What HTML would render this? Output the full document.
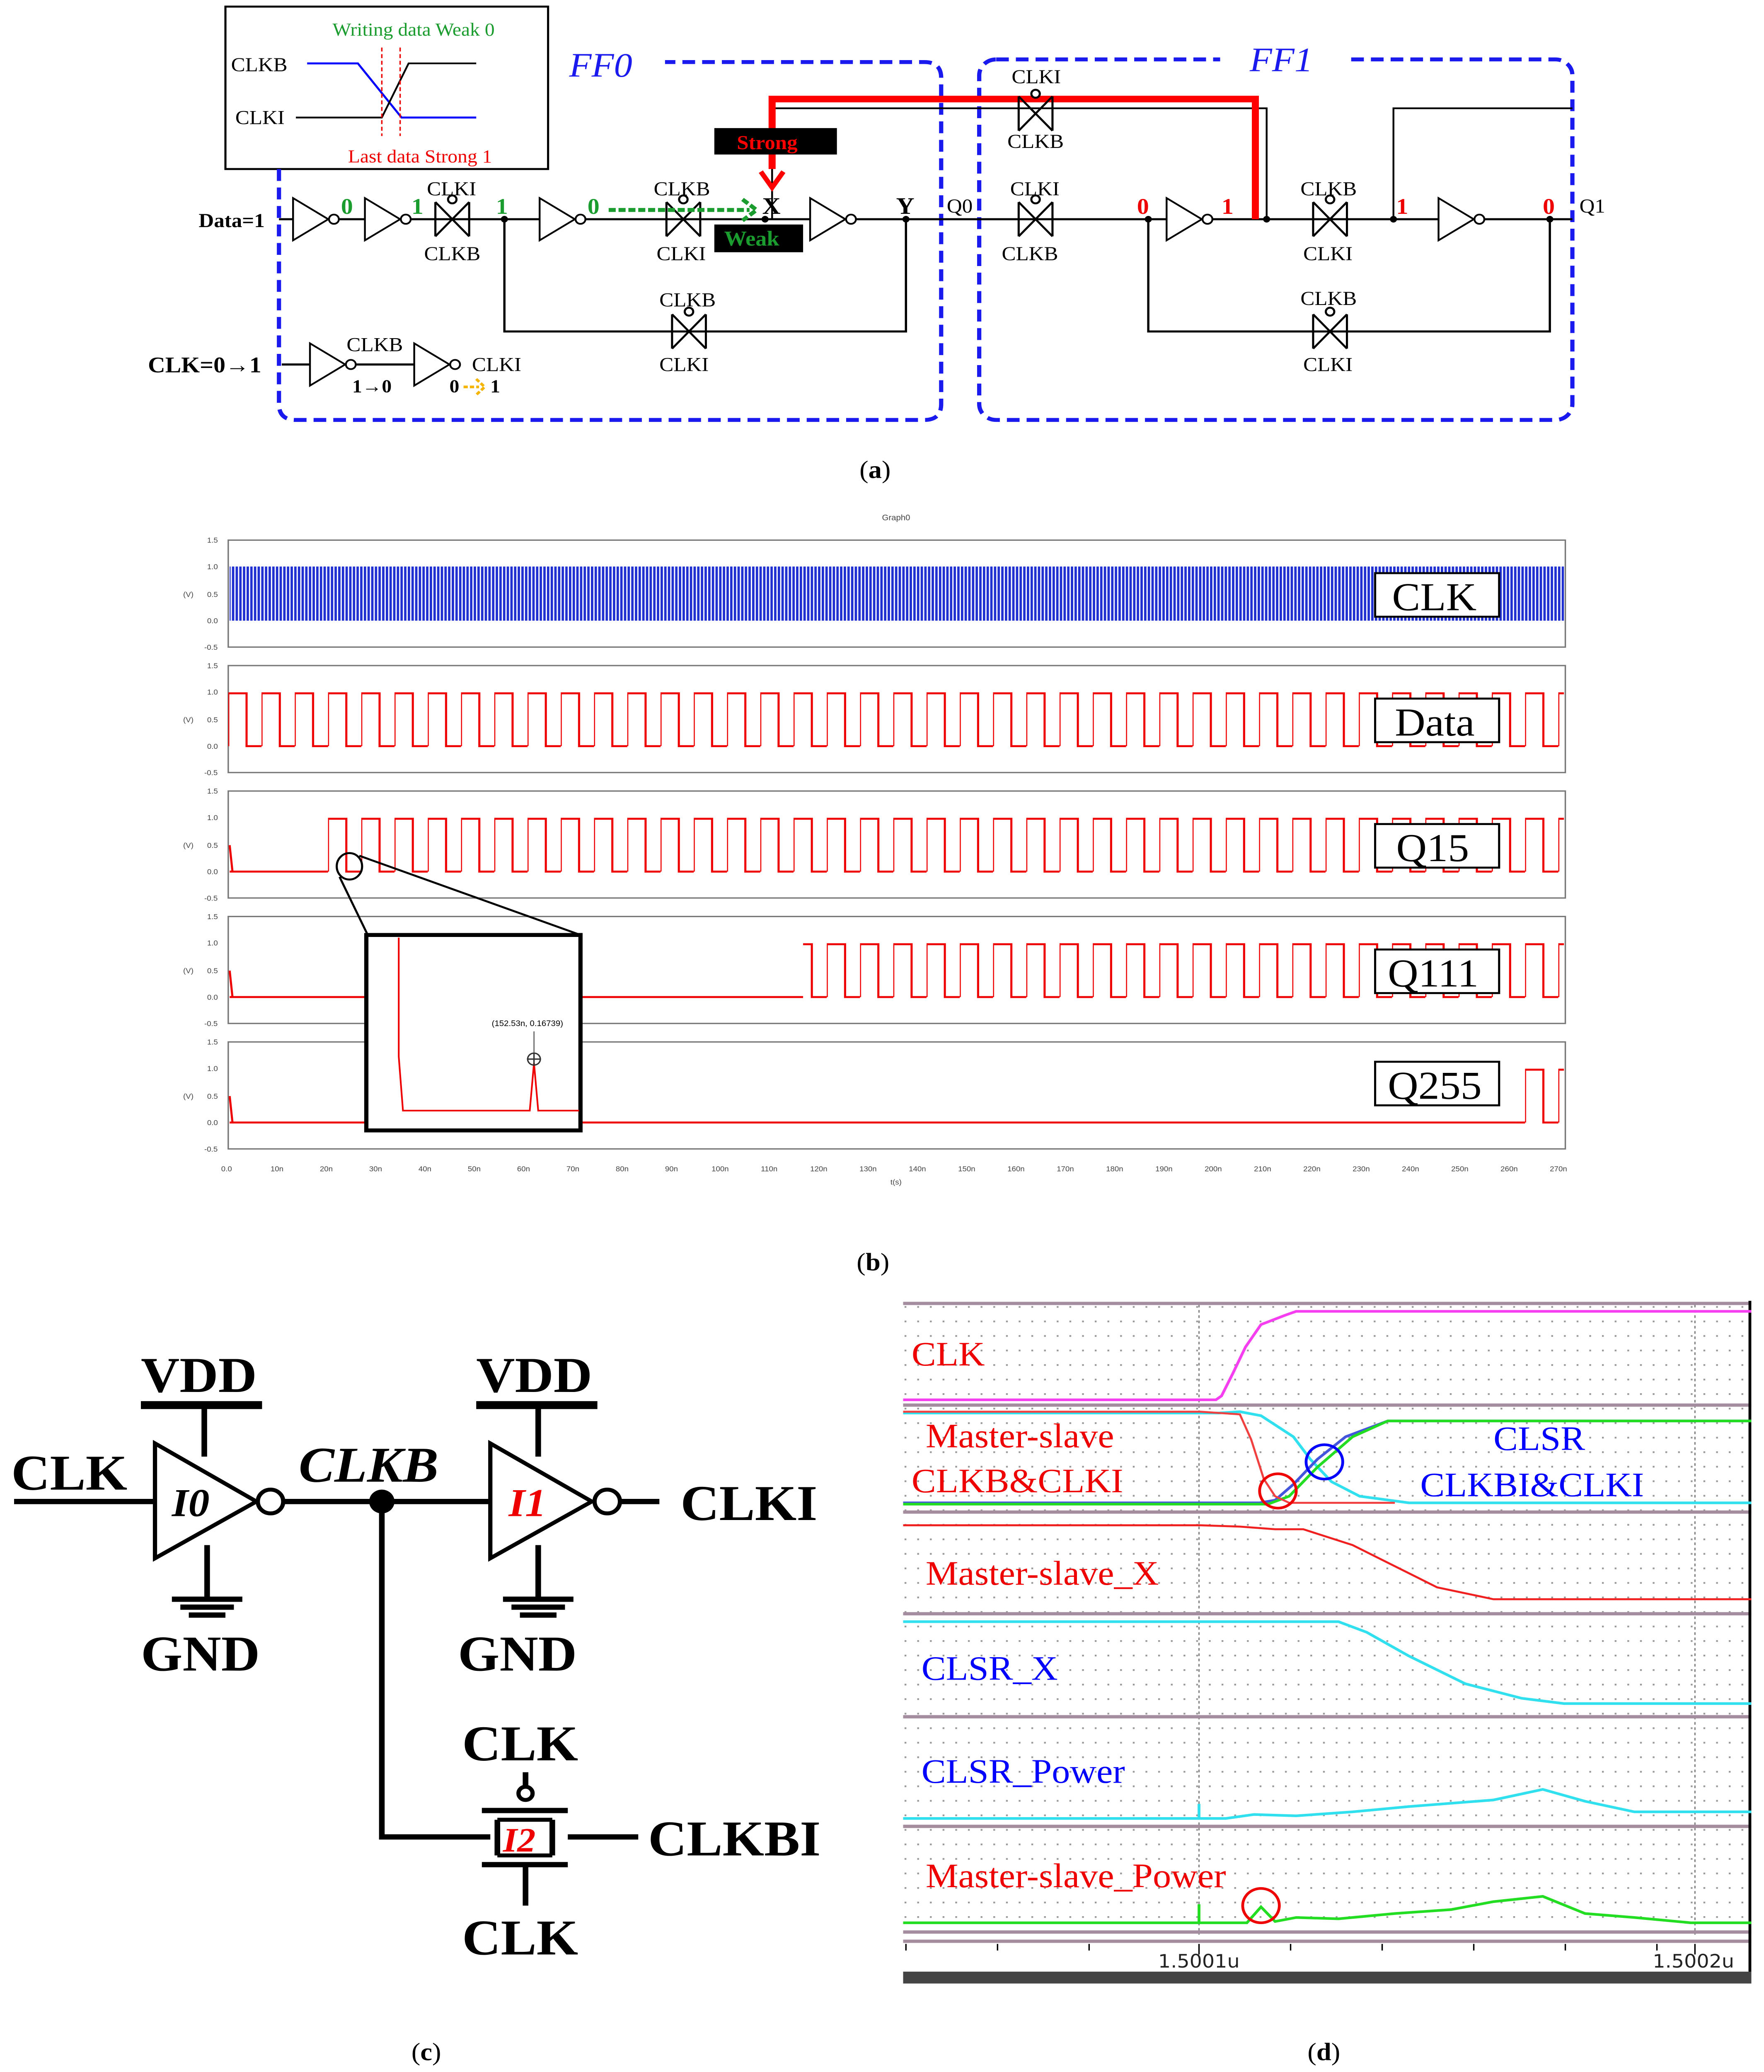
<!DOCTYPE html>
<html><head><meta charset="utf-8"><style>html,body{margin:0;padding:0;background:#fff;overflow:hidden;width:100%;height:100%}svg{display:block;width:100vw;height:100vh}</style></head>
<body>
<svg xmlns="http://www.w3.org/2000/svg" viewBox="0 0 1252 1569" preserveAspectRatio="none" font-family="Liberation Serif, serif">
<defs>
<g id="tg" fill="none" stroke="#000" stroke-width="1.5">
<line x1="-12" y1="-13" x2="-12" y2="13"/><line x1="12" y1="-13" x2="12" y2="13"/>
<line x1="-12" y1="-13" x2="12" y2="13"/><line x1="12" y1="-13" x2="-12" y2="13"/>
<circle cx="0" cy="-15" r="3" fill="#fff"/>
</g>
<g id="inv" fill="#fff" stroke="#000" stroke-width="1.3">
<polygon points="0,-16 25,0 0,16"/><circle cx="29" cy="0" r="3.5"/>
</g>
<pattern id="pdata" patternUnits="userSpaceOnUse" x="162" y="0" width="23.6" height="1600">
<path d="M0,565 V525 H13 V565 H23.6" fill="none" stroke="#e00" stroke-width="1.5"/>
</pattern>
<pattern id="pclk" patternUnits="userSpaceOnUse" x="162" y="0" width="2.6" height="1600">
<rect x="0" y="0" width="1.7" height="1600" fill="#1f2fd0"/>
</pattern>
<pattern id="dots" patternUnits="userSpaceOnUse" x="642" y="989" width="9" height="11">
<rect x="0" y="0" width="1.3" height="1.3" fill="#999"/>
</pattern>
</defs>

<!-- ===== (a) ===== -->
<rect x="160" y="5" width="229" height="123" fill="#fff" stroke="#000" stroke-width="1.5"/>
<text x="236" y="27" font-size="14" fill="#1a9c2e">Writing data Weak 0</text>
<text x="164" y="54" font-size="15">CLKB</text>
<text x="167" y="94" font-size="15">CLKI</text>
<text x="247" y="123" font-size="14" fill="#e00">Last data Strong 1</text>
<path d="M218,48 H254 L285,89 H338" fill="none" stroke="#00f" stroke-width="1.5"/>
<path d="M210,89 H271 L290,48 H338" fill="none" stroke="#000" stroke-width="1.3"/>
<line x1="271" y1="36" x2="271" y2="103" stroke="#e00" stroke-dasharray="3,2"/>
<line x1="284" y1="36" x2="284" y2="103" stroke="#e00" stroke-dasharray="3,2"/>

<path d="M198,128 V306 Q198,318 210,318 H656 Q668,318 668,306 V59 Q668,47 656,47 H472" fill="none" stroke="#1a1aee" stroke-width="3" stroke-dasharray="9,5"/>
<rect x="695" y="45" width="421" height="273" rx="12" fill="none" stroke="#1a1aee" stroke-width="3" stroke-dasharray="9,5"/>
<rect x="866" y="30" width="90" height="30" fill="#fff"/>
<text x="404" y="58" font-size="26" font-style="italic" fill="#1a1aee">FF0</text>
<text x="887" y="54" font-size="26" font-style="italic" fill="#1a1aee">FF1</text>

<g stroke="#000" stroke-width="1.6" fill="none">
<line x1="198" y1="166" x2="1116" y2="166"/>
<path d="M358,166 V251 H643 V166"/>
<path d="M815,166 V251 H1100 V166"/>
<path d="M548,166 V82 H899 V166" stroke-width="1.3"/>
<path d="M989,166 V82 H1116" stroke-width="1.3"/>
<path d="M200,276 H220 M246,276 H294"/>
</g>
<path d="M548,128 V75 H891 V166" fill="none" stroke="#f00" stroke-width="5"/>
<path d="M540,130 L548,142 L556,130" fill="none" stroke="#f00" stroke-width="3.5"/>
<g fill="#000"><circle cx="358" cy="166" r="2.5"/><circle cx="543" cy="166" r="2.5"/><circle cx="643" cy="166" r="2.5"/><circle cx="815" cy="166" r="2.5"/><circle cx="899" cy="166" r="2.5"/><circle cx="989" cy="166" r="2.5"/><circle cx="1100" cy="166" r="2.5"/></g>

<use href="#inv" x="208" y="166"/><use href="#inv" x="259" y="166"/><use href="#inv" x="383" y="166"/>
<use href="#inv" x="575" y="166"/><use href="#inv" x="828" y="166"/><use href="#inv" x="1021" y="166"/>
<use href="#inv" x="220" y="276"/><use href="#inv" x="294" y="276"/>
<use href="#tg" x="321" y="166"/><use href="#tg" x="485" y="166"/><use href="#tg" x="735" y="86"/>
<use href="#tg" x="735" y="166"/><use href="#tg" x="944" y="166"/><use href="#tg" x="489" y="251"/><use href="#tg" x="944" y="251"/>

<g font-size="15">
<text x="303" y="148">CLKI</text><text x="301" y="197">CLKB</text>
<text x="464" y="148">CLKB</text><text x="466" y="197">CLKI</text>
<text x="718" y="63">CLKI</text><text x="715" y="112">CLKB</text>
<text x="717" y="148">CLKI</text><text x="711" y="197">CLKB</text>
<text x="923" y="148">CLKB</text><text x="925" y="197">CLKI</text>
<text x="468" y="232">CLKB</text><text x="468" y="281">CLKI</text>
<text x="923" y="231">CLKB</text><text x="925" y="281">CLKI</text>
<text x="246" y="266">CLKB</text><text x="335" y="281">CLKI</text>
<text x="672" y="161">Q0</text><text x="1121" y="161">Q1</text>
</g>
<text x="141" y="172" font-size="15" font-weight="bold">Data=1</text>
<text x="105" y="282" font-size="17" font-weight="bold">CLK=0→1</text>
<text x="250" y="297" font-size="14" font-weight="bold">1→0</text>
<text x="319" y="297" font-size="14" font-weight="bold">0</text>
<text x="348" y="297" font-size="14" font-weight="bold">1</text>
<path d="M329,293 H340 M338,287 L344,293 L338,299" fill="none" stroke="#f4b400" stroke-width="2" stroke-dasharray="3,1.5"/>
<text x="541" y="162" font-size="18" font-weight="bold">X</text>
<text x="636" y="162" font-size="18" font-weight="bold">Y</text>
<g font-size="17" font-weight="bold" fill="#1a9c2e"><text x="242" y="162">0</text><text x="292" y="162">1</text><text x="352" y="162">1</text><text x="417" y="162">0</text></g>
<g font-size="17" font-weight="bold" fill="#e00"><text x="807" y="162">0</text><text x="867" y="162">1</text><text x="991" y="162">1</text><text x="1095" y="162">0</text></g>
<path d="M432,159 H532 M527,151 L537,159 L527,167" fill="none" stroke="#1a9c2e" stroke-width="3" stroke-dasharray="5,2"/>
<rect x="507" y="97" width="87" height="20" fill="#000"/><text x="523" y="113" font-size="15" font-weight="bold" fill="#f00">Strong</text>
<rect x="507" y="170" width="63" height="21" fill="#000"/><text x="514" y="186" font-size="16" font-weight="bold" fill="#1a9c2e">Weak</text>

<text x="610" y="362" font-size="19">(<tspan font-weight="bold">a</tspan>)</text>

<!-- ===== (b) ===== -->
<text x="626" y="394" font-family="Liberation Sans, sans-serif" font-size="6" fill="#444">Graph0</text>
<g font-family="Liberation Sans, sans-serif" font-size="5.5" fill="#444">
<text x="147" y="411">1.5</text><text x="147" y="431">1.0</text><text x="147" y="452">0.5</text><text x="147" y="472">0.0</text><text x="145" y="492">-0.5</text>
<text x="147" y="506">1.5</text><text x="147" y="526">1.0</text><text x="147" y="547">0.5</text><text x="147" y="567">0.0</text><text x="145" y="587">-0.5</text>
<text x="147" y="601">1.5</text><text x="147" y="621">1.0</text><text x="147" y="642">0.5</text><text x="147" y="662">0.0</text><text x="145" y="682">-0.5</text>
<text x="147" y="696">1.5</text><text x="147" y="716">1.0</text><text x="147" y="737">0.5</text><text x="147" y="757">0.0</text><text x="145" y="777">-0.5</text>
<text x="147" y="791">1.5</text><text x="147" y="811">1.0</text><text x="147" y="832">0.5</text><text x="147" y="852">0.0</text><text x="145" y="872">-0.5</text>
<text x="130" y="452">(V)</text><text x="130" y="547">(V)</text><text x="130" y="642">(V)</text><text x="130" y="737">(V)</text><text x="130" y="832">(V)</text>
<text x="157" y="887">0.0</text><text x="192" y="887">10n</text><text x="227" y="887">20n</text><text x="262" y="887">30n</text><text x="297" y="887">40n</text><text x="332" y="887">50n</text><text x="367" y="887">60n</text><text x="402" y="887">70n</text><text x="437" y="887">80n</text><text x="472" y="887">90n</text><text x="505" y="887">100n</text><text x="540" y="887">110n</text><text x="575" y="887">120n</text><text x="610" y="887">130n</text><text x="645" y="887">140n</text><text x="680" y="887">150n</text><text x="715" y="887">160n</text><text x="750" y="887">170n</text><text x="785" y="887">180n</text><text x="820" y="887">190n</text><text x="855" y="887">200n</text><text x="890" y="887">210n</text><text x="925" y="887">220n</text><text x="960" y="887">230n</text><text x="995" y="887">240n</text><text x="1030" y="887">250n</text><text x="1065" y="887">260n</text><text x="1100" y="887">270n</text>
<text x="632" y="897">t(s)</text>
</g>
<g fill="#fff" stroke="#777" stroke-width="1">
<rect x="162" y="409" width="949" height="81"/><rect x="162" y="504" width="949" height="81"/>
<rect x="162" y="599" width="949" height="81"/><rect x="162" y="694" width="949" height="81"/>
<rect x="162" y="789" width="949" height="81"/>
</g>
<rect x="163" y="429" width="947" height="41" fill="url(#pclk)"/>
<rect x="162" y="505" width="948" height="79" fill="url(#pdata)"/>
<g transform="translate(0,95)"><rect x="232" y="505" width="878" height="79" fill="url(#pdata)"/></g>
<line x1="163" y1="660" x2="232" y2="660" stroke="#e00" stroke-width="1.5"/>
<g transform="translate(0,190)"><rect x="570" y="505" width="540" height="79" fill="url(#pdata)"/></g>
<line x1="163" y1="755" x2="570" y2="755" stroke="#e00" stroke-width="1.5"/>
<g transform="translate(0,285)"><rect x="1076" y="505" width="34" height="79" fill="url(#pdata)"/></g>
<line x1="163" y1="850" x2="1076" y2="850" stroke="#e00" stroke-width="1.5"/>
<path d="M163,640 L165,660 M163,735 L165,755 M163,830 L165,850" stroke="#e00" stroke-width="1.5"/>
<g fill="#fff" stroke="#000" stroke-width="1.5">
<rect x="976" y="434" width="88" height="33"/><rect x="976" y="529" width="88" height="33"/>
<rect x="976" y="624" width="88" height="33"/><rect x="976" y="719" width="88" height="33"/><rect x="976" y="804" width="88" height="33"/>
</g>
<g font-size="30"><text x="988" y="462">CLK</text><text x="990" y="557">Data</text><text x="991" y="652">Q15</text><text x="985" y="747">Q111</text><text x="985" y="832">Q255</text></g>
<ellipse cx="248" cy="656" rx="9" ry="10" fill="none" stroke="#000" stroke-width="1.5"/>
<line x1="241" y1="664" x2="261" y2="708" stroke="#000" stroke-width="1.5"/>
<line x1="255" y1="648" x2="412" y2="708" stroke="#000" stroke-width="1.5"/>
<rect x="260" y="708" width="152" height="148" fill="#fff" stroke="#000" stroke-width="3"/>
<path d="M283,710 V800 L286,841 H376 L379,805 L382,841 H411" fill="none" stroke="#e00" stroke-width="1.2"/>
<circle cx="379" cy="802" r="4.5" fill="none" stroke="#333"/><path d="M374,802 H384 M379,797 V807" stroke="#333"/>
<line x1="379" y1="781" x2="379" y2="797" stroke="#333" stroke-width="0.6"/>
<text x="349" y="777" font-family="Liberation Sans, sans-serif" font-size="6">(152.53n, 0.16739)</text>

<text x="608" y="962" font-size="19">(<tspan font-weight="bold">b</tspan>)</text>

<!-- ===== (c) ===== -->
<g stroke="#000" stroke-width="4" fill="none">
<line x1="10" y1="1137" x2="110" y2="1137"/>
<polygon points="110,1093 182,1137 110,1180" fill="#fff" stroke-width="3"/>
<circle cx="192" cy="1137" r="9" fill="#fff" stroke-width="3"/>
<line x1="100" y1="1064" x2="186" y2="1064" stroke-width="6"/>
<line x1="145" y1="1064" x2="145" y2="1103"/>
<line x1="147" y1="1170" x2="147" y2="1210"/>
<line x1="122" y1="1211" x2="172" y2="1211"/><line x1="128" y1="1217" x2="166" y2="1217"/><line x1="134" y1="1223" x2="160" y2="1223"/>
<line x1="201" y1="1137" x2="348" y2="1137"/>
<polygon points="348,1093 420,1137 348,1180" fill="#fff" stroke-width="3"/>
<circle cx="431" cy="1137" r="9" fill="#fff" stroke-width="3"/>
<line x1="440" y1="1137" x2="468" y2="1137"/>
<line x1="338" y1="1064" x2="424" y2="1064" stroke-width="6"/>
<line x1="382" y1="1064" x2="382" y2="1103"/>
<line x1="382" y1="1170" x2="382" y2="1210"/>
<line x1="357" y1="1211" x2="407" y2="1211"/><line x1="363" y1="1217" x2="401" y2="1217"/><line x1="369" y1="1223" x2="395" y2="1223"/>
<path d="M271,1137 V1391 H348"/>
<line x1="342" y1="1371" x2="403" y2="1371"/><line x1="342" y1="1412" x2="403" y2="1412"/>
<line x1="353" y1="1378" x2="353" y2="1405"/><line x1="392" y1="1378" x2="392" y2="1405"/>
<line x1="353" y1="1378" x2="392" y2="1378" stroke-width="3"/><line x1="353" y1="1405" x2="392" y2="1405" stroke-width="3"/>
<line x1="373" y1="1342" x2="373" y2="1354"/>
<circle cx="373" cy="1358" r="5" fill="#fff" stroke-width="3"/>
<line x1="373" y1="1412" x2="373" y2="1443"/>
<line x1="403" y1="1391" x2="453" y2="1391"/>
</g>
<circle cx="271" cy="1137" r="9" fill="#000"/>
<g font-weight="bold" font-size="38">
<text x="8" y="1128">CLK</text><text x="100" y="1054">VDD</text><text x="100" y="1265">GND</text>
<text x="338" y="1054">VDD</text><text x="325" y="1265">GND</text><text x="483" y="1151">CLKI</text>
<text x="328" y="1333">CLK</text><text x="460" y="1405">CLKBI</text><text x="328" y="1480">CLK</text>
<text x="212" y="1122" font-style="italic">CLKB</text>
</g>
<text x="122" y="1148" font-size="30" font-weight="bold" font-style="italic">I0</text>
<text x="361" y="1148" font-size="30" font-weight="bold" font-style="italic" fill="#e00">I1</text>
<text x="357" y="1402" font-size="26" font-weight="bold" font-style="italic" fill="#e00">I2</text>
<text x="292" y="1560" font-size="19">(<tspan font-weight="bold">c</tspan>)</text>

<!-- ===== (d) ===== -->
<rect x="641" y="985" width="602" height="517" fill="#fff"/>
<rect x="641" y="985" width="602" height="480" fill="url(#dots)"/>
<line x1="851" y1="988" x2="851" y2="1465" stroke="#888" stroke-dasharray="2,2"/>
<line x1="1203" y1="988" x2="1203" y2="1465" stroke="#888" stroke-dasharray="2,2"/>
<g stroke="#a58da0" stroke-width="2.5">
<line x1="641" y1="987" x2="1243" y2="987"/>
<line x1="641" y1="1064" x2="1243" y2="1064"/><line x1="641" y1="1145" x2="1243" y2="1145"/>
<line x1="641" y1="1222" x2="1243" y2="1222"/><line x1="641" y1="1300" x2="1243" y2="1300"/>
<line x1="641" y1="1383" x2="1243" y2="1383"/><line x1="641" y1="1463" x2="1243" y2="1463"/>
<line x1="641" y1="1470" x2="1243" y2="1470"/>
</g>
<line x1="1242" y1="985" x2="1242" y2="1502" stroke="#000" stroke-width="2"/>
<g stroke="#000" stroke-width="1"><line x1="643" y1="1472" x2="643" y2="1477"/><line x1="708" y1="1472" x2="708" y2="1477"/><line x1="773" y1="1472" x2="773" y2="1477"/><line x1="851" y1="1472" x2="851" y2="1480"/><line x1="916" y1="1472" x2="916" y2="1477"/><line x1="981" y1="1472" x2="981" y2="1477"/><line x1="1046" y1="1472" x2="1046" y2="1477"/><line x1="1111" y1="1472" x2="1111" y2="1477"/><line x1="1176" y1="1472" x2="1176" y2="1477"/><line x1="1203" y1="1472" x2="1203" y2="1480"/></g>
<rect x="641" y="1493" width="602" height="9" fill="#444"/>
<g font-family="DejaVu Sans, sans-serif" font-size="14" fill="#222"><text x="822" y="1490">1.5001u</text><text x="1173" y="1490">1.5002u</text></g>
<g fill="none" stroke-width="2">
<path d="M641,1060 H863 L867,1057 L875,1040 L884,1020 L895,1003 L912,996 L920,993 H1243" stroke="#f43ef0"/>
<path d="M641,1070 H865 L880,1069 L895,1072 L918,1088 L930,1105 L945,1122 L965,1133 L1000,1138 H1243" stroke="#30e0ee"/>
<path d="M641,1138 H894 L905,1136 L918,1124 L935,1105 L955,1088 L985,1076 H1243" stroke="#4455dd"/>
<path d="M641,1139 H900 L915,1133 L935,1111 L960,1088 L985,1076 H1243" stroke="#22dd22"/>
<path d="M641,1069 H852 L880,1071 L888,1090 L897,1120 L905,1133 L915,1138 H990" stroke="#f04040" stroke-width="1.5"/>
<path d="M641,1155 H852 L880,1156 L905,1158 L925,1158 L960,1170 L990,1186 L1020,1202 L1060,1211 H1243" stroke="#f02020" stroke-width="1.5"/>
<path d="M641,1228 H950 L970,1236 L1000,1254 L1040,1275 L1080,1286 L1110,1290 H1243" stroke="#30e0ee"/>
<path d="M641,1377 H851 V1366 V1377 H870 L890,1374 L920,1375 L960,1372 L1000,1368 L1060,1363 L1095,1355 L1125,1364 L1160,1372 H1243" stroke="#30e0ee"/>
<path d="M641,1456 H851 V1442 V1456 H885 L895,1444 L905,1455 L920,1452 L950,1453 L990,1449 L1030,1446 L1060,1440 L1095,1436 L1125,1449 L1160,1452 L1200,1456 H1243" stroke="#22dd22"/>
</g>
<circle cx="907" cy="1129" r="13" fill="none" stroke="#e00" stroke-width="2"/>
<circle cx="940" cy="1107" r="13" fill="none" stroke="#00f" stroke-width="2"/>
<circle cx="895" cy="1443" r="13" fill="none" stroke="#e00" stroke-width="2"/>
<g font-size="26">
<text x="647" y="1034" fill="#e00">CLK</text>
<text x="657" y="1096" fill="#e00">Master-slave</text><text x="647" y="1130" fill="#e00">CLKB&amp;CLKI</text>
<text x="1060" y="1098" fill="#00f">CLSR</text><text x="1008" y="1133" fill="#00f">CLKBI&amp;CLKI</text>
<text x="657" y="1200" fill="#e00">Master-slave_X</text>
<text x="654" y="1272" fill="#00f">CLSR_X</text>
<text x="654" y="1350" fill="#00f">CLSR_Power</text>
<text x="657" y="1429" fill="#e00">Master-slave_Power</text>
</g>
<text x="928" y="1560" font-size="19">(<tspan font-weight="bold">d</tspan>)</text>
</svg>
</body></html>
